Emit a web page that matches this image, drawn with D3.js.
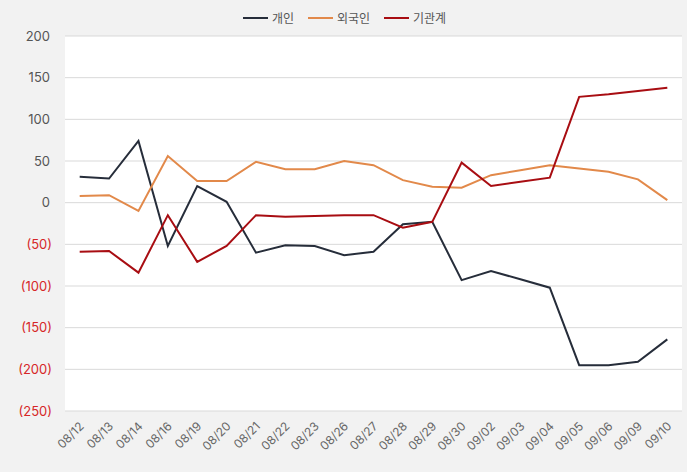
<!DOCTYPE html>
<html>
<head>
<meta charset="utf-8">
<script src="https://cdn.jsdelivr.net/npm/d3@7"></script>
<style>
  body { margin: 0; background: #f2f2f2; font-family: Inter, "Noto Sans CJK KR", sans-serif; }
</style>
</head>
<body>
<div id="chart"></div>
<script>
var dates = ["08/12","08/13","08/14","08/16","08/19","08/20","08/21","08/22","08/23","08/26","08/27",
             "08/28","08/29","08/30","09/02","09/03","09/04","09/05","09/06","09/09","09/10"];
var individual = [31, 29, 74, -52, 20, 1, -60, -51, -52, -63, -59, -26, -23, -93, -82, -92, -102, -195, -195, -191, -164];
var foreign    = [8, 9, -10, 56, 26, 26, 49, 40, 40, 50, 45, 27, 19, 18, 33, 39, 45, 41, 37, 28, 3];
var institution = [-59, -58, -84, -15, -71, -52, -15, -17, -16, -15, -15, -30, -23, 48, 20, 25, 30, 127, 130, 134, 138];
var yTicks = [200, 150, 100, 50, 0, -50, -100, -150, -200, -250];

var series = [
  {name: "개인", values: individual, color: "#262d3a"},
  {name: "외국인", values: foreign, color: "#e2894a"},
  {name: "기관계", values: institution, color: "#a80d12"}
];

var width = 687, height = 472;
var margin = {top: 36, right: 5, bottom: 61, left: 65};
var plot_w = width - margin.left - margin.right,
    plot_h = height - margin.top - margin.bottom;

var svg = d3.select("#chart").append("svg")
  .attr("width", width)
  .attr("height", height);

var plot = svg.append("g")
  .attr("transform", "translate(" + margin.left + "," + margin.top + ")");

plot.append("rect")
  .attr("width", plot_w)
  .attr("height", plot_h)
  .attr("fill", "#ffffff");

var x = d3.scalePoint().domain(dates).range([0, plot_w]).padding(0.5);
var y = d3.scaleLinear().domain([-250, 200]).range([plot_h, 0]);

// grid
plot.selectAll(".grid")
  .data(yTicks)
  .enter()
  .append("line")
  .attr("x1", 0).attr("x2", plot_w)
  .attr("y1", function(d){ return y(d) })
  .attr("y2", function(d){ return y(d) })
  .attr("stroke", "#d9d9d9")
  .attr("stroke-width", 1);

// y labels
svg.selectAll(".ylab")
  .data(yTicks)
  .enter()
  .append("text")
  .attr("x", function(d){ return d < 0 ? 52 : 50 })
  .attr("y", function(d){ return margin.top + y(d) + 4.5 })
  .attr("text-anchor", "end")
  .attr("font-size", 13)
  .attr("fill", function(d){ return d < 0 ? "#d62728" : "#555" })
  .text(function(d){ return d < 0 ? "(" + (-d) + ")" : d });

// x labels
svg.selectAll(".xlab")
  .data(dates)
  .enter()
  .append("text")
  .attr("transform", function(d){
    return "translate(" + (margin.left + x(d) + 5) + "," + (margin.top + plot_h + 16) + ") rotate(-45)";
  })
  .attr("text-anchor", "end")
  .attr("font-size", 12)
  .attr("fill", "#666")
  .text(function(d){ return d });

// lines
var line = d3.line()
  .x(function(d, i){ return x(dates[i]) })
  .y(function(d){ return y(d) });

plot.selectAll(".series")
  .data(series)
  .enter()
  .append("path")
  .attr("d", function(d){ return line(d.values) })
  .attr("fill", "none")
  .attr("stroke", function(d){ return d.color })
  .attr("stroke-width", 2);

// legend
var legend_x = [243, 308, 384];
var legend = svg.selectAll(".legend")
  .data(series)
  .enter()
  .append("g")
  .attr("transform", function(d, i){ return "translate(" + legend_x[i] + ",18)" });
legend.append("line")
  .attr("x1", 0).attr("x2", 25)
  .attr("stroke", function(d){ return d.color })
  .attr("stroke-width", 2);
legend.append("text")
  .attr("x", 29)
  .attr("y", 4.5)
  .attr("font-size", 12)
  .attr("fill", "#555")
  .text(function(d){ return d.name });
</script>
</body>
</html>
